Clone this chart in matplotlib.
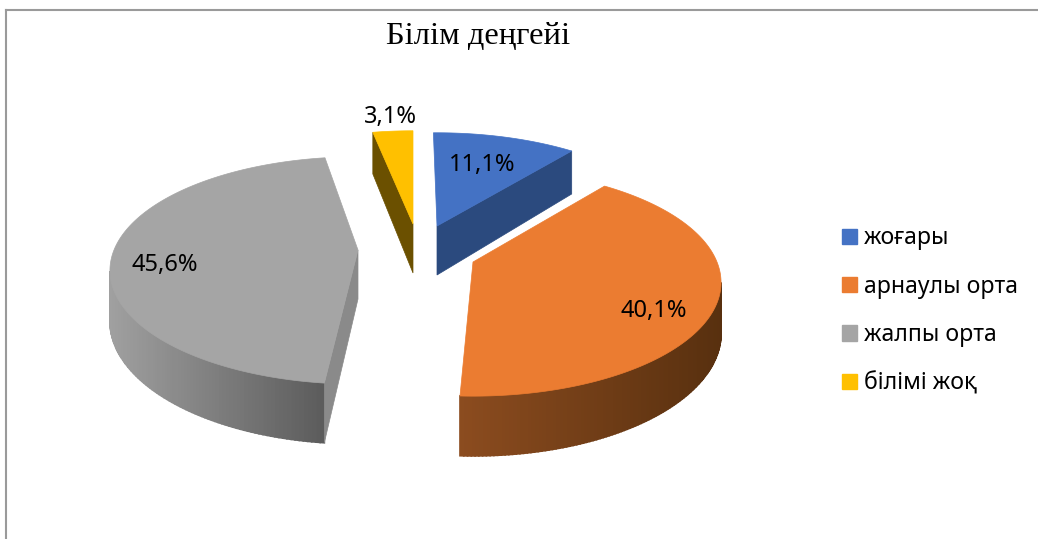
import numpy as np
import matplotlib
matplotlib.use("Agg")
import matplotlib.pyplot as plt
from matplotlib.patches import Patch
from matplotlib.colors import to_rgb

title = "Білім деңгейі"
names = ["жоғары", "арнаулы орта", "жалпы орта", "білімі жоқ"]
values = [11.1, 40.1, 45.6, 3.1]
labels = ["11,1%", "40,1%", "45,6%", "3,1%"]
colors = ["#4472C4", "#EB7C31", "#A5A5A5", "#FFC000"]

# per slice layout, pixels
apex = [(437, 226), (473, 262), (358, 250), (413, 224)]
nudge = [-1, -2, 2, 0]
label_pos = [(482, 165), (654, 311), (165, 265), (390, 117)]
cut_side = [1, None, 0, 0]  # which edge shows its cut face
cut_col = ["#2B4A7E", None, "#8A8A8A", "#6B5000"]
wall_left = [None, "#8C4C1F", "#A0A0A0", None]
wall_right = [None, "#58300F", "#5C5C5C", None]

A, B, k, depth = 244, 110, 0.18, 49


def project(theta, ap):
    u, v = np.sin(theta), np.cos(theta)
    s = 1 / (1 + k * v)
    return ap[0] + A * u * s, ap[1] - B * v * s, depth * s


fig = plt.figure(figsize=(10.38, 5.39), dpi=100)
ax = fig.add_axes([0, 0, 1, 1])
ax.set_xlim(0, 1038)
ax.set_ylim(539, 0)
ax.axis("off")

ax.plot([6, 6], [539, 10], color="#9A9A9A", lw=1.5)
ax.plot([6, 1038], [10, 10], color="#9A9A9A", lw=1.5)

fracs = np.array(values) / sum(values)
ends = np.cumsum(fracs) * 2 * np.pi
starts = ends - fracs * 2 * np.pi

for i in [3, 0, 2, 1]:
    a0 = starts[i] + np.radians(nudge[i])
    a1 = ends[i] + np.radians(nudge[i])
    ap = apex[i]
    th = np.linspace(a0, a1, 200)
    x, y, d = project(th, ap)

    # outer wall, front part only
    if wall_left[i]:
        front = np.cos(th) < -k
        xf, yf, df = x[front], y[front], d[front]
        c0, c1 = np.array(to_rgb(wall_left[i])), np.array(to_rgb(wall_right[i]))
        for j in range(len(xf) - 1):
            t = (xf[j] - xf.min()) / (xf.max() - xf.min())
            c = c0 + (c1 - c0) * t
            ax.fill([xf[j], xf[j + 1], xf[j + 1], xf[j]],
                    [yf[j], yf[j + 1], yf[j + 1] + df[j + 1], yf[j] + df[j]],
                    color=c, lw=1.2, zorder=2)

    # flat cut face
    if cut_side[i] is not None:
        e = cut_side[i]
        rx, ry, rd = x[-1 if e else 0], y[-1 if e else 0], d[-1 if e else 0]
        ax.fill([ap[0], rx, rx, ap[0]], [ap[1], ry, ry + rd, ap[1] + depth],
                color=cut_col[i], lw=0.5, zorder=2)

    ax.fill(np.r_[ap[0], x], np.r_[ap[1], y], color=colors[i], lw=0.5, zorder=3)

for (px, py), s in zip(label_pos, labels):
    ax.text(px, py, s, ha="center", va="center", fontsize=17, color="black",
            family=["Noto Sans", "DejaVu Sans"], zorder=5)

ax.text(478, 37, title, ha="center", va="center", fontsize=23.4, color="black",
        family=["Liberation Serif", "DejaVu Serif"])

handles = [Patch(color=c) for c in colors]
ax.legend(handles, names, loc="center left", bbox_to_anchor=(842, 311),
          bbox_transform=ax.transData, frameon=False, handlelength=0.65,
          handleheight=0.65, handletextpad=0.3, labelspacing=1.06, borderpad=0,
          borderaxespad=0, prop={"family": ["Noto Sans", "DejaVu Sans"], "size": 16.6})

fig.savefig("out.png", dpi=100)
